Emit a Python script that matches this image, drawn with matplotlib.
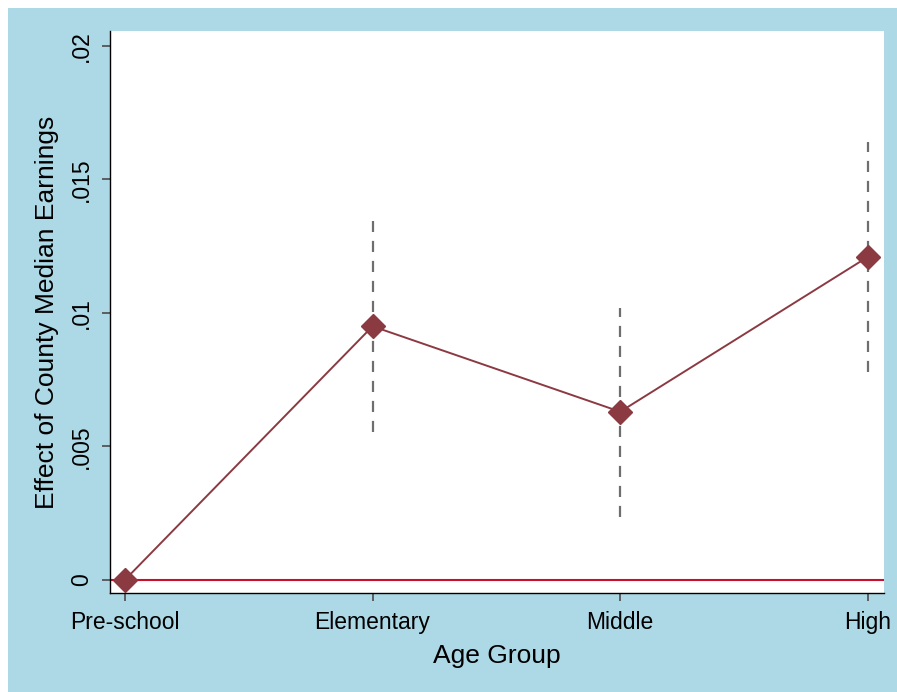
import numpy as np
import matplotlib.pyplot as plt
from matplotlib.patches import Rectangle

plt.rcParams['font.family'] = ['Liberation Sans', 'DejaVu Sans']

# data
groups = ['Pre-school', 'Elementary', 'Middle', 'High']
effect = [0.0, 0.0095, 0.0063, 0.0121]
ci_low = [np.nan, 0.00554, 0.00236, 0.00779]
ci_high = [np.nan, 0.01345, 0.0102, 0.0164]
yticks = [0, 0.005, 0.01, 0.015, 0.02]
ytick_labels = ['0', '.005', '.01', '.015', '.02']

bg = '#add8e6'
maroon = '#8b3a42'
red = '#c8102e'

fig = plt.figure(figsize=(8.97, 6.92), dpi=100, facecolor='white')
fig.patches.append(Rectangle((8 / 897, 0), 1 - 8 / 897, 1 - 8 / 692,
                             transform=fig.transFigure, facecolor=bg,
                             edgecolor='none', zorder=-10))

ax = fig.add_axes([110 / 897, 1 - 593 / 692, 774 / 897, 562 / 692])
ax.set_facecolor('white')

x = np.arange(1, len(groups) + 1)

ax.axhline(0, color=red, lw=1.5, zorder=1)
ax.vlines(x, ci_low, ci_high, colors='#6e6e6e', linestyles=(0, (5, 4)), lw=1.6, zorder=2)
ax.plot(x, effect, color=maroon, lw=1.4, marker='D', ms=12.5, mfc=maroon, mec=maroon, zorder=3)

ax.set_xlim(0.94, 4.065)
ax.set_ylim(-0.00049, 0.02056)
ax.set_xticks(x)
ax.set_xticklabels(groups, fontsize=16.5)
ax.set_yticks(yticks)
ax.set_yticklabels(ytick_labels, fontsize=16.5, rotation=90, va='center')

for s in ['top', 'right']:
    ax.spines[s].set_visible(False)
for s in ['left', 'bottom']:
    ax.spines[s].set_color('black')
    ax.spines[s].set_linewidth(1.0)
ax.tick_params(axis='both', direction='out', length=6, width=1.3, color='#555555')
ax.tick_params(axis='x', pad=7)
ax.tick_params(axis='y', pad=6)

ax.set_xlabel('Age Group', fontsize=19, labelpad=7)
ax.set_ylabel('Effect of County Median Earnings', fontsize=19, labelpad=8)

fig.savefig('out.png', dpi=100, facecolor=fig.get_facecolor())
